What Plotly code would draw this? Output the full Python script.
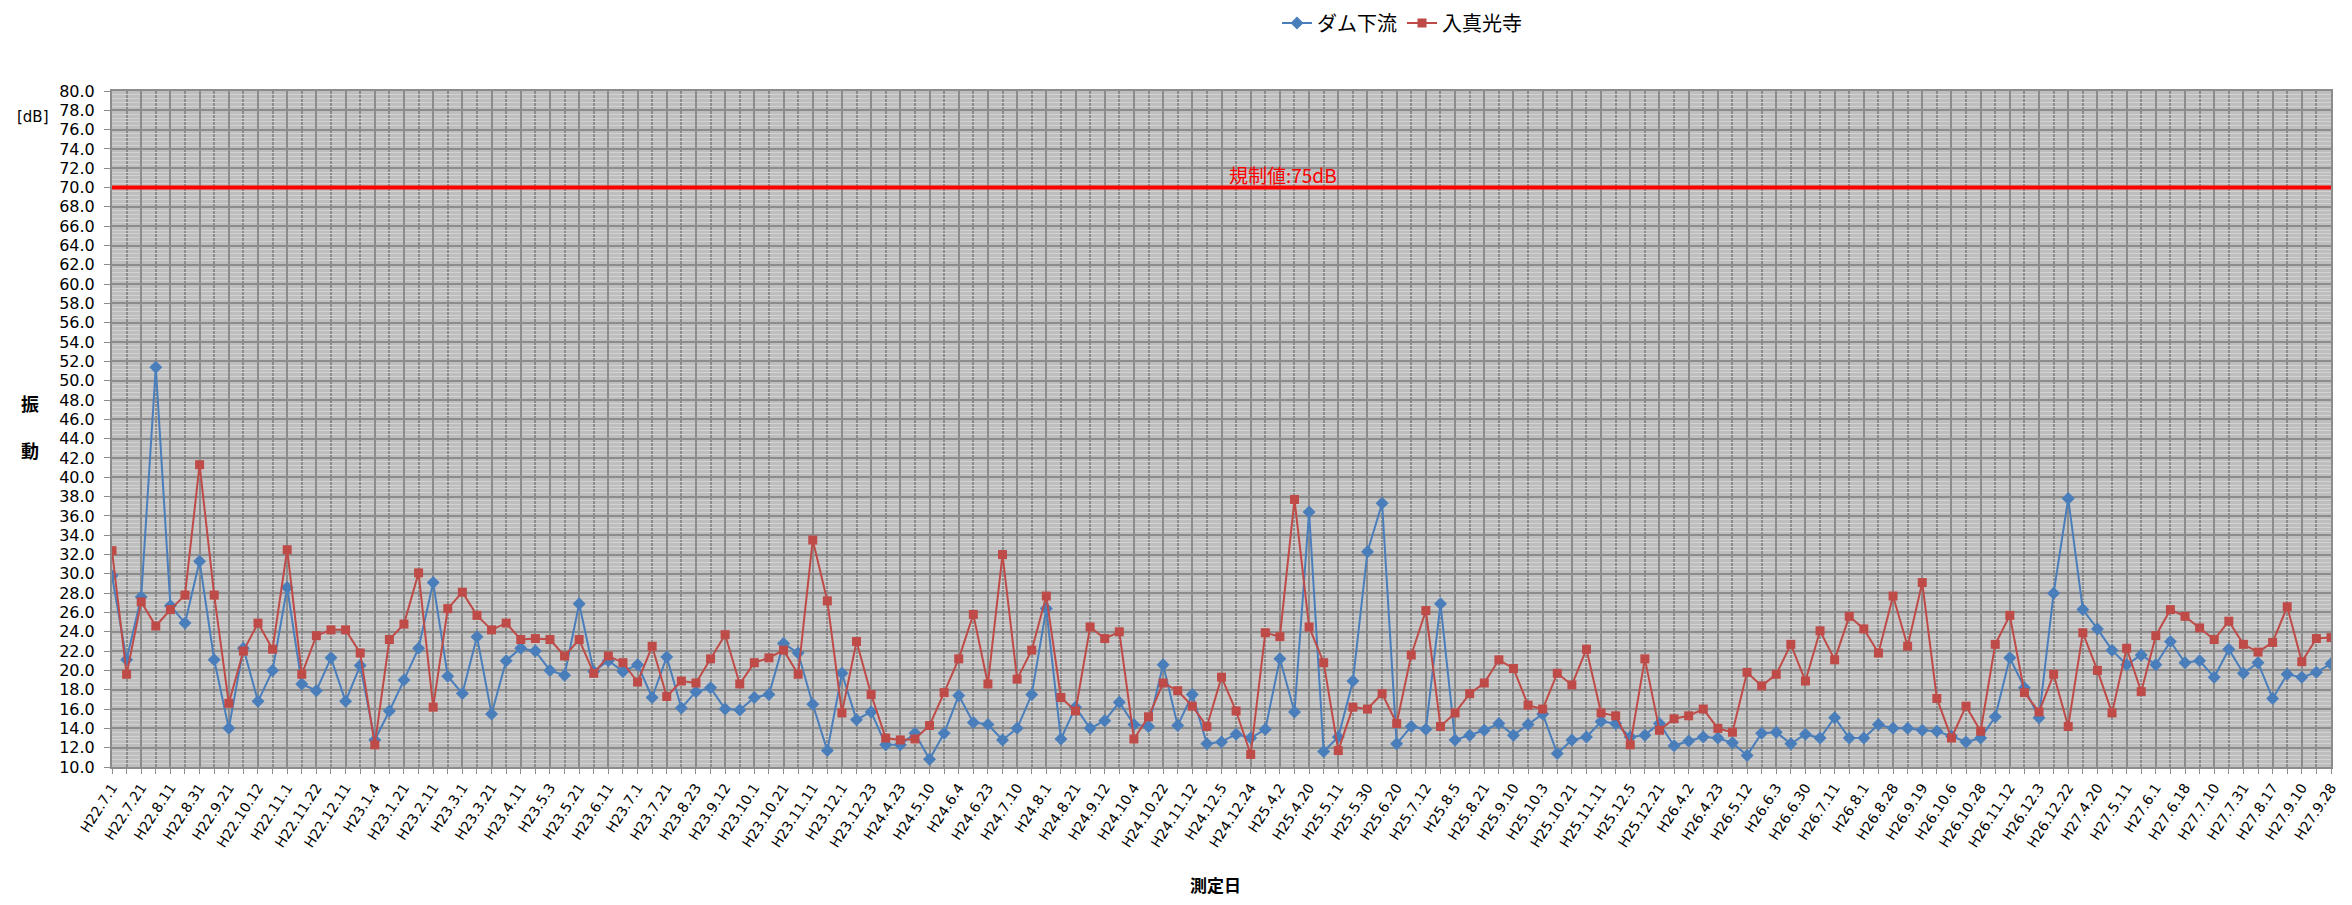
import plotly.graph_objects as go

tick_labels = [
    "H22.7.1", "H22.7.21", "H22.8.11", "H22.8.31", "H22.9.21", "H22.10.12", "H22.11.1", "H22.11.22",
    "H22.12.11", "H23.1.4", "H23.1.21", "H23.2.11", "H23.3.1", "H23.3.21", "H23.4.11", "H23.5.3",
    "H23.5.21", "H23.6.11", "H23.7.1", "H23.7.21", "H23.8.23", "H23.9.12", "H23.10.1", "H23.10.21",
    "H23.11.11", "H23.12.1", "H23.12.23", "H24.4.23", "H24.5.10", "H24.6.4", "H24.6.23", "H24.7.10",
    "H24.8.1", "H24.8.21", "H24.9.12", "H24.10.4", "H24.10.22", "H24.11.12", "H24.12.5", "H24.12.24",
    "H25.4,2", "H25.4.20", "H25.5.11", "H25.5.30", "H25.6.20", "H25.7.12", "H25.8.5", "H25.8.21",
    "H25.9.10", "H25.10.3", "H25.10.21", "H25.11.11", "H25.12.5", "H25.12.21", "H26.4.2", "H26.4.23",
    "H26.5.12", "H26.6.3", "H26.6.30", "H26.7.11", "H26.8.1", "H26.8.28", "H26.9.19", "H26.10.6",
    "H26.10.28", "H26.11.12", "H26.12.3", "H26.12.22", "H27.4.20", "H27.5.11", "H27.6.1", "H27.6.18",
    "H27.7.10", "H27.7.31", "H27.8.17", "H27.9.10", "H27.9.28",
]

dam_downstream = [
    29.8, 21.1, 27.6, 51.4, 26.7, 24.9, 31.3, 21.1, 14.0, 22.3, 16.8, 20.0, 28.6, 18.6, 17.9, 21.3,
    16.8, 20.5, 12.8, 15.8, 19.0, 22.3, 29.1, 19.4, 17.6, 23.5,
    15.5, 21.0, 22.3, 22.0, 20.0, 19.5, 26.9, 19.9, 21.0, 19.9, 20.6, 17.2, 21.4, 16.1, 17.8, 18.2,
    16.0, 15.9, 17.2, 17.5, 22.8, 21.8, 16.5, 11.7, 19.7,
    14.9, 15.7, 12.3, 12.3, 13.5, 10.8, 13.5, 17.4, 14.6, 14.4, 12.8, 14.0, 17.5, 26.4, 12.9, 16.2,
    14.0, 14.8, 16.7, 14.4, 14.2, 20.6, 14.3, 17.5, 12.4,
    12.6, 13.4, 13.0, 13.9, 21.2, 15.7, 36.4, 11.6, 13.1, 18.9, 32.3, 37.3, 12.4, 14.2, 13.9, 26.9,
    12.8, 13.3, 13.8, 14.5, 13.3, 14.4, 15.5, 11.4, 12.8,
    13.1, 14.7, 14.5, 13.1, 13.3, 14.5, 12.2, 12.7, 13.1, 13.0, 12.5, 11.2, 13.5, 13.6, 12.4, 13.4,
    13.0, 15.1, 13.0, 13.0, 14.4, 14.0, 14.0, 13.8, 13.7,
    13.2, 12.6, 13.0, 15.2, 21.3, 18.2, 15.1, 28.0, 37.8, 26.3, 24.3, 22.1, 20.6, 21.6, 20.6, 23.0,
    20.8, 21.0, 19.3, 22.2, 19.7, 20.8, 17.1, 19.6, 19.3, 19.8, 20.7,
]

irimakouji = [
    32.4, 19.6, 27.1, 24.6, 26.3, 27.8, 41.3, 27.8, 16.6, 22.0, 24.9, 22.2, 32.5, 19.6, 23.6, 24.2,
    24.2, 21.8, 12.3, 23.2, 24.8, 30.1, 16.2, 26.4, 28.1, 25.7,
    24.2, 24.9, 23.2, 23.3, 23.2, 21.5, 23.2, 19.7, 21.5, 20.8, 18.8, 22.5, 17.3, 18.9, 18.7, 21.2,
    23.7, 18.6, 20.8, 21.3, 22.1, 19.6, 33.5, 27.2, 15.6,
    23.0, 17.5, 13.0, 12.8, 12.9, 14.3, 17.7, 21.2, 25.8, 18.6, 32.0, 19.1, 22.1, 27.7, 17.2, 15.8,
    24.5, 23.3, 24.0, 12.9, 15.2, 18.7, 17.9, 16.3, 14.2,
    19.3, 15.8, 11.3, 23.9, 23.5, 37.7, 24.5, 20.8, 11.7, 16.2, 16.0, 17.6, 14.5, 21.6, 26.2, 14.2,
    15.6, 17.6, 18.7, 21.1, 20.2, 16.4, 16.0, 19.7, 18.5,
    22.2, 15.6, 15.3, 12.3, 21.2, 13.8, 15.0, 15.3, 16.0, 14.0, 13.6, 19.8, 18.4, 19.6, 22.7, 18.9,
    24.1, 21.1, 25.6, 24.3, 21.8, 27.7, 22.5, 29.1, 17.1,
    13.0, 16.3, 13.7, 22.7, 25.7, 17.7, 15.7, 19.6, 14.2, 23.9, 20.0, 15.6, 22.3, 17.8, 23.6, 26.3,
    25.6, 24.4, 23.2, 25.1, 22.7, 21.9, 22.9, 26.6, 20.9, 23.3, 23.4,
]

regulation_value = 70.0
regulation_label = "規制値:75dB"
y_ticks = [10 + 2 * k for k in range(36)]

n = len(dam_downstream)
x_idx = list(range(n))
tick_positions = list(range(0, n, 2))

FONT = "DejaVu Sans, Noto Sans CJK JP, sans-serif"
JP = "Noto Sans CJK JP, sans-serif"

# page has a default 8px body margin around the figure
OFF = 8
W, H = 2352 - 2 * OFF, 905 - 2 * OFF
X0, X1, Y0, Y1 = 111.7, 2330.7, 90.7, 766.7   # plot area in page pixels


def px(x):
    return (x - X0) / (X1 - X0)


def py(y):
    return (Y1 - y) / (Y1 - Y0)


fig = go.Figure()
fig.add_trace(go.Scatter(
    x=x_idx, y=dam_downstream, name="ダム下流", mode="lines+markers",
    line=dict(color="#4A7EBB", width=2),
    marker=dict(symbol="diamond", size=10, color="#4A7EBB"),
))
fig.add_trace(go.Scatter(
    x=x_idx, y=irimakouji, name="入真光寺", mode="lines+markers",
    line=dict(color="#BE4B48", width=2),
    marker=dict(symbol="square", size=9, color="#BE4B48"),
))

fig.add_shape(type="line", xref="paper", yref="y", x0=0, x1=1,
              y0=regulation_value, y1=regulation_value,
              line=dict(color="#FF0000", width=4))

fig.add_annotation(text=regulation_label, xref="paper", yref="y",
                   x=px(1283), y=regulation_value, yshift=13,
                   showarrow=False, font=dict(color="#FF0000", size=19, family=JP))
fig.add_annotation(text="[dB]", xref="paper", yref="paper",
                   x=px(33), y=py(117), xanchor="center", yanchor="middle",
                   showarrow=False, font=dict(size=15, family=FONT, color="#000"))
fig.add_annotation(text="<b>振</b><br><br><b>動</b>", xref="paper", yref="paper",
                   x=px(30), y=py(426), xanchor="center", yanchor="middle",
                   showarrow=False, font=dict(size=18, family=JP, color="#000"))
fig.add_annotation(text="<b>測定日</b>", xref="paper", yref="paper",
                   x=px(1215), y=py(884), xanchor="center", yanchor="middle",
                   showarrow=False, font=dict(size=17, family=JP, color="#000"))

fig.update_layout(
    width=W, height=H,
    margin=dict(l=X0 - OFF, r=W - (X1 - OFF), t=Y0 - OFF, b=H - (Y1 - OFF), autoexpand=False),
    paper_bgcolor="white", plot_bgcolor="#BEBEBE",
    showlegend=True,
    legend=dict(orientation="h", xref="container", yref="container",
                x=(1402 - OFF) / W, y=1 - (23 - OFF) / H,
                xanchor="center", yanchor="middle",
                font=dict(size=20, family=JP, color="#000"), bgcolor="rgba(0,0,0,0)"),
    font=dict(family=FONT, color="#000"),
)

fig.update_xaxes(
    range=[0, n - 1], tickmode="array", tickvals=tick_positions, ticktext=tick_labels,
    tickangle=-57, tickfont=dict(size=14, family=FONT, color="#000"),
    showgrid=True, gridcolor="#8C8C8C", gridwidth=1.5,
    minor=dict(tickmode="array", tickvals=x_idx, showgrid=True, gridcolor="#8C8C8C",
               gridwidth=1.5, ticks="outside", ticklen=5, tickcolor="#8C8C8C"),
    ticks="outside", ticklen=5, tickcolor="#8C8C8C",
    showline=True, linecolor="#8C8C8C", linewidth=2, mirror=True, zeroline=False,
    automargin=False,
)
fig.update_yaxes(
    range=[10, 80], tickmode="array", tickvals=y_ticks,
    ticktext=[f"{v:.1f}" for v in y_ticks],
    tickfont=dict(size=16, family=FONT, color="#000"), ticklabelstandoff=6,
    showgrid=True, gridcolor="#8C8C8C", gridwidth=1.5,
    minor=dict(dtick=0.4, showgrid=True, gridcolor="#D2D2D2", gridwidth=1),
    ticks="outside", ticklen=6, tickcolor="#8C8C8C",
    showline=True, linecolor="#8C8C8C", linewidth=2, mirror=True, zeroline=False,
    automargin=False,
)

fig.write_html("out.html")
